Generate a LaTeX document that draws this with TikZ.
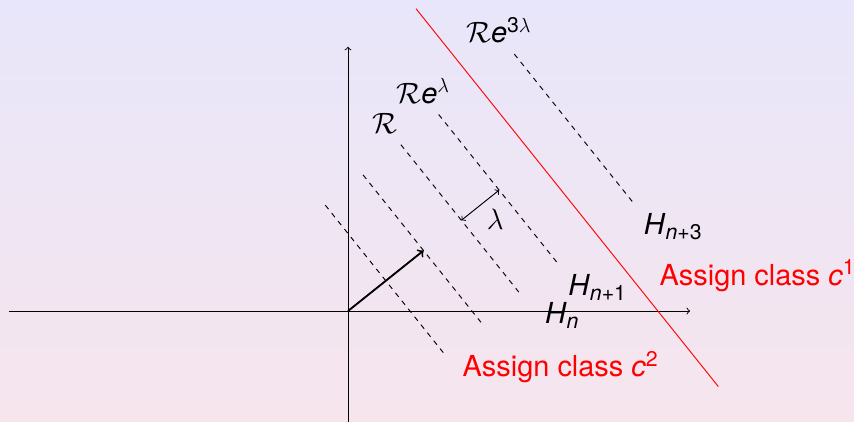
\documentclass[tikz,border=0pt]{standalone}
\usepackage{fontspec}
\setmainfont{TeX Gyre Heros}
\usetikzlibrary{calc}

\DeclareMathSizes{17}{17}{12.5}{9}

\definecolor{bgtop}{RGB}{232,230,250}
\definecolor{bgbot}{RGB}{246,229,237}

\begin{document}
\begin{tikzpicture}[
    every node/.style={font=\fontsize{17}{20}\selectfont},
    line width=0.55pt,
    axis/.style={->},
    level/.style={dash pattern=on 3pt off 3pt},
    weight/.style={->,line width=1.1pt},
    border/.style={red},
    rlabel/.style={anchor=base,inner sep=0pt},
    hlabel/.style={anchor=base west,inner sep=0pt},
    classlabel/.style={red,anchor=base west,inner sep=0pt},
]

%----------------------------------
% Background
%----------------------------------

\fill[top color=bgtop,bottom color=bgbot] (-7.19,-2.293) rectangle (10.455,6.426);
\useasboundingbox (-7.19,-2.293) rectangle (10.455,6.426);

%----------------------------------
% Axes
%----------------------------------

\coordinate (O) at (0,0);
\coordinate (xl) at (-7,0);
\coordinate (xr) at (7.07,0);
\coordinate (yb) at (0,-2.5);
\coordinate (yt) at (0,5.46);

\draw[axis] (xl) -- (xr);
\draw[axis] (yb) -- (yt);

%----------------------------------
% Hyperplanes
%----------------------------------

\coordinate (u) at (38.66:1);
\coordinate (p) at (-51.34:1);

\foreach \k in {1,2,3,4,6} {
    \coordinate (s\k) at ($\k*(u)-2*(p)$);
    \coordinate (e\k) at ($\k*(u)+2*(p)$);
    \draw[level] (s\k) -- (e\k);
}

\coordinate (b1) at ($5*(u)-4*(p)$);
\coordinate (b2) at ($5*(u)+6*(p)$);
\draw[border] (b1) -- (b2);

\coordinate (w) at ($2*(u)$);
\draw[weight] (O) -- (w);

\coordinate (l1) at ($3*(u)$);
\coordinate (l2) at ($4*(u)$);
\draw[<->] (l1) -- (l2);
\node (lam) at ($(l1)!0.5!(l2)+(0.31,-0.30)$) {$\lambda$};

%----------------------------------
% Labels
%----------------------------------

\node[rlabel] (r0) at ($(s3)+(-0.32,0.23)$) {$\mathcal{R}$};
\node[rlabel] (r1) at ($(s4)+(-0.32,0.23)$) {$\mathcal{R}$\textit{e}\textsuperscript{$\lambda$}};
\node[rlabel] (r3) at ($(s6)+(-0.32,0.23)$) {$\mathcal{R}$\textit{e}\textsuperscript{3$\lambda$}};

\node[hlabel] (hn) at ($(e3)+(0.47,-0.58)$) {\textit{H}\textsubscript{\textit{n}}};
\node[hlabel] (hn1) at ($(e4)+(0.17,-0.61)$) {\textit{H}\textsubscript{\textit{n}+1}};
\node[hlabel] (hn3) at ($(e6)+(0.17,-0.61)$) {\textit{H}\textsubscript{\textit{n}+3}};

\node[classlabel] (c1) at (6.43,0.537) {Assign class \textit{c}\textsuperscript{1}};
\node[classlabel] (c2) at (2.36,-1.357) {Assign class \textit{c}\textsuperscript{2}};

\end{tikzpicture}
\end{document}
